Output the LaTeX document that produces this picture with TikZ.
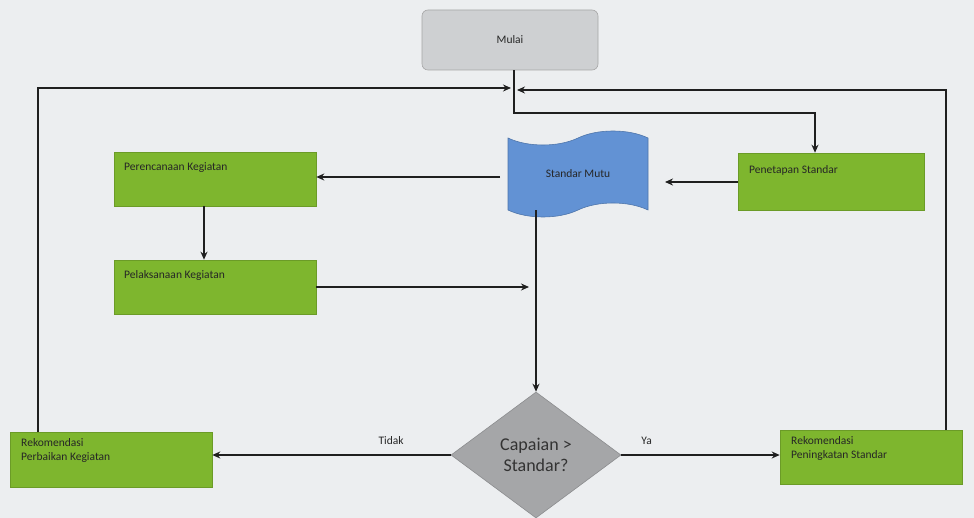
\documentclass[tikz,border=0pt]{standalone}
\usepackage{fontspec}
\setmainfont{Carlito}
\usetikzlibrary{arrows.meta,shapes.geometric,shapes.symbols,positioning,calc}
\definecolor{bggray}{RGB}{236,238,240}
\definecolor{boxgreen}{RGB}{126,182,46}
\definecolor{startgray}{RGB}{206,208,210}
\definecolor{tapeblue}{RGB}{98,146,212}
\definecolor{diagray}{RGB}{165,166,168}
\begin{document}
\begin{tikzpicture}[x=1pt,y=-1pt,
  greenbox/.style={draw=boxgreen!85!black,line width=0.6pt,fill=boxgreen,minimum width=#1,minimum height=54pt,inner sep=0pt},
  txt/.style={font=\fontsize{11.5}{14}\selectfont,text=black!85,align=left,anchor=north west},
  conn/.style={line width=2.6pt,draw=black!88,-{Stealth[length=8pt,width=7pt]}},
  lbl/.style={font=\fontsize{11.5}{13}\selectfont,text=black!85}]
\fill[bggray] (0,0) rectangle (974,518);
\useasboundingbox (0,0) rectangle (974,518);

% nodes
\node[draw=gray!70,line width=0.6pt,fill=startgray,rounded corners=6pt,minimum width=176pt,minimum height=60pt,font=\fontsize{11.5}{13}\selectfont,text=black!85] (mulai) at (510,40) {Mulai};

\node[greenbox=202pt] (renc) at (215,179) {};
\node[txt] at (renc.north west) [xshift=7pt,yshift=-7pt] {Perencanaan Kegiatan};

\node[greenbox=202pt] (pelak) at (215,287) {};
\node[txt] at (pelak.north west) [xshift=7pt,yshift=-7pt] {Pelaksanaan Kegiatan};

\node[greenbox=186pt,minimum height=57pt] (penet) at (831,181.5) {};
\node[txt] at (penet.north west) [xshift=8pt,yshift=-9pt] {Penetapan Standar};

\node[greenbox=202pt,minimum height=55pt] (perb) at (111,459.5) {};
\node[txt] at (perb.north west) [xshift=8pt,yshift=-3pt] {Rekomendasi\\Perbaikan Kegiatan};

\node[greenbox=182pt,minimum height=54pt] (ping) at (871,457) {};
\node[txt] at (ping.north west) [xshift=8pt,yshift=-3pt] {Rekomendasi\\Peningkatan Standar};

\node[tape,draw=tapeblue!80!black,line width=0.6pt,fill=tapeblue,minimum width=140pt,minimum height=86pt,
  tape bend top=in and out,tape bend bottom=in and out,tape bend height=14pt,
  font=\fontsize{11.5}{13}\selectfont,text=black!85] (mutu) at (578,174) {Standar Mutu};

\node[diamond,draw=diagray!85!black,line width=0.6pt,fill=diagray,minimum width=170pt,minimum height=126pt,inner sep=0pt,
  align=center,font=\fontsize{18}{21}\selectfont,text=black!80] (cap) at (536,455) {Capaian >\\Standar?};

% junction coordinates
\coordinate (jtop) at (514,113);
\coordinate (jl) at (511,88);
\coordinate (jr) at (517,90);
\coordinate (jp) at (529,287);

% connectors
\draw[conn] (mulai.south -| jtop) -- (jtop) -| (penet.north -| 815,0);
\draw[conn] (perb.north -| 38,0) -- (38,88) -- (jl);
\draw[conn] (ping.north -| 946,0) -- (946,90) -- (jr);
\draw[conn] (penet.west |- 0,182) -- (665,182);
\draw[conn] (500,177) -- (renc.east |- 0,177);
\draw[conn] (renc.south -| 204,0) -- (pelak.north -| 204,0);
\draw[conn] (pelak.east) -- (jp);
\draw[conn] (mutu.south -| cap.north) -- (cap.north);
\draw[conn] (cap.west) -- node[lbl,above=6pt,pos=0.25]{Tidak} (perb.east |- cap.west);
\draw[conn] (cap.east) -- node[lbl,above=6pt,pos=0.16]{Ya} (ping.west |- cap.east);
\end{tikzpicture}
\end{document}
